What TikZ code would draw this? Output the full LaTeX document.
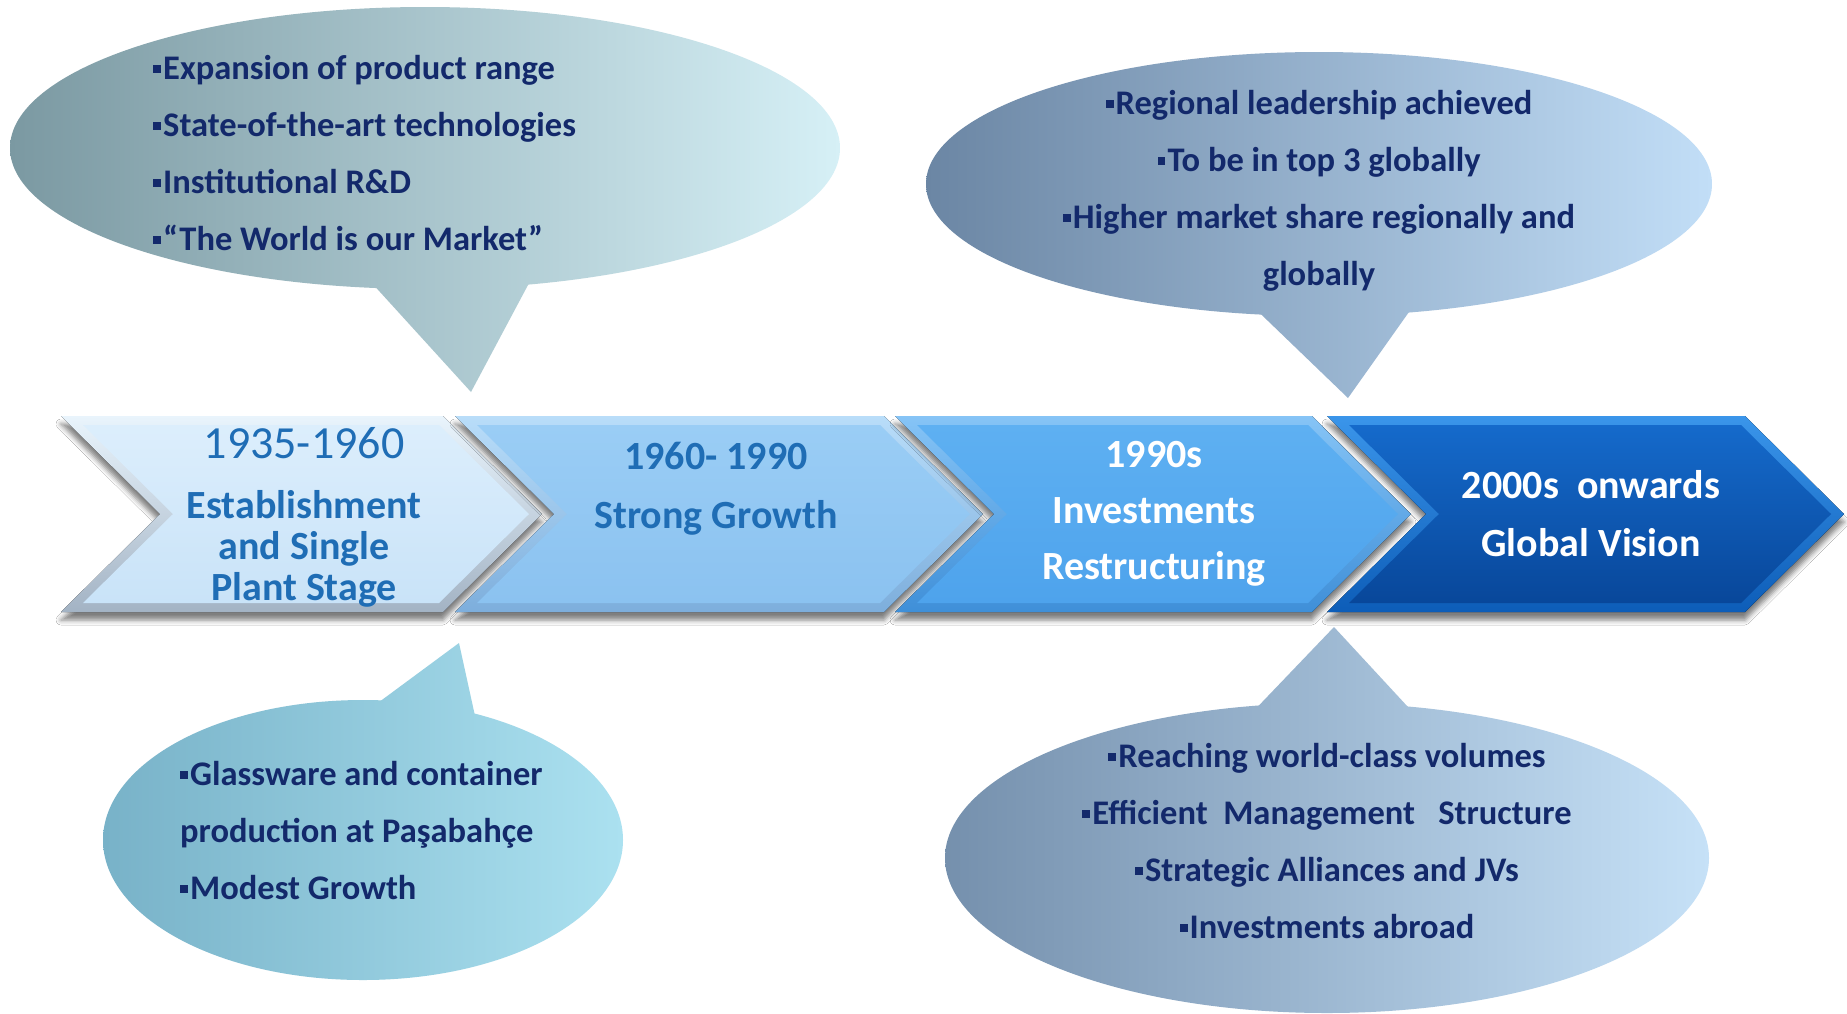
\documentclass[tikz,border=0pt]{standalone}
\usepackage{fontspec}
\setmainfont{Carlito}
\usetikzlibrary{shadows.blur}
\definecolor{navy}{HTML}{13296B}
\definecolor{chevtxt}{HTML}{1F6DB5}
\definecolor{tlL}{HTML}{7B99A2}
\definecolor{tlR}{HTML}{D6F0F6}
\definecolor{trL}{HTML}{6B86A4}
\definecolor{trR}{HTML}{C2DEF7}
\definecolor{blL}{HTML}{78B2C8}
\definecolor{blR}{HTML}{ABE1F0}
\definecolor{brL}{HTML}{7590AD}
\definecolor{brR}{HTML}{C6E1F7}
\definecolor{caT}{HTML}{E9F4FC}\definecolor{caB}{HTML}{A3B3C4}
\definecolor{ciT}{HTML}{DCEEFC}\definecolor{ciB}{HTML}{C9E3F8}
\definecolor{cbT}{HTML}{B9DDF9}\definecolor{cbB}{HTML}{7DAEDC}
\definecolor{cjT}{HTML}{9ACDF5}\definecolor{cjB}{HTML}{8BC2F0}
\definecolor{ccT}{HTML}{86C4F6}\definecolor{ccB}{HTML}{3F8FD8}
\definecolor{ckT}{HTML}{5EB0F2}\definecolor{ckB}{HTML}{4EA3EC}
\definecolor{cdT}{HTML}{3A95EA}\definecolor{cdB}{HTML}{0D5DB8}
\definecolor{clT}{HTML}{156ACB}\definecolor{clB}{HTML}{08479A}
\newcommand{\sqb}{\rule[0.2em]{0.23em}{0.23em}\hspace{0.06em}}
\tikzset{
  btxt/.style={font=\bfseries\fontsize{34.5}{57}\selectfont, text=navy, inner sep=0pt},
  ctxt/.style={font=\bfseries\fontsize{40}{48}\selectfont, inner sep=0pt, align=center},
  chevshadow/.style={blur shadow={shadow xshift=0pt, shadow yshift=-8pt, shadow opacity=50, shadow blur radius=5pt}},
}
% outer chevron: #1 = L, #2 = R
\newcommand{\chevouter}[2]{(#1,416) -- (#2,416) -- ({#2+99},514) -- (#2,612) -- (#1,612) -- ({#1+99},514) -- cycle}
\newcommand{\chevinner}[2]{({#1+22},425) -- ({#2-4},425) -- ({#2+86},514) -- ({#2-4},603) -- ({#1+22},603) -- ({#1+112},514) -- cycle}
\begin{document}
\begin{tikzpicture}[x=1pt,y=-1pt]
\useasboundingbox[fill=white] (0,0) rectangle (1847,1013);

% ---------- bubbles ----------
% top-left
\begin{scope}
  \clip (425,148) ellipse [x radius=415pt, y radius=141pt];
  \shade[left color=tlL, right color=tlR] (10,0) rectangle (840,400);
\end{scope}
\begin{scope}
  \clip (360,270) -- (471,392) -- (536,270) -- cycle;
  \shade[left color=tlL, right color=tlR] (10,0) rectangle (840,400);
\end{scope}
% top-right
\begin{scope}
  \clip (1319,184) ellipse [x radius=393pt, y radius=132pt];
  \shade[left color=trL, right color=trR] (926,40) rectangle (1712,400);
\end{scope}
\begin{scope}
  \clip (1241,295) -- (1348,398) -- (1421,295) -- cycle;
  \shade[left color=trL, right color=trR] (926,40) rectangle (1712,400);
\end{scope}
% bottom-left
\begin{scope}
  \clip (363,840) ellipse [x radius=260pt, y radius=140pt];
  \shade[left color=blL, right color=blR] (103,640) rectangle (623,980);
\end{scope}
\begin{scope}
  \clip (348,725) -- (459,643) -- (477,725) -- cycle;
  \shade[left color=blL, right color=blR] (103,640) rectangle (623,980);
\end{scope}
% bottom-right
\begin{scope}
  \clip (1327,858) ellipse [x radius=382pt, y radius=155pt];
  \shade[left color=brL, right color=brR] (945,620) rectangle (1709,1013);
\end{scope}
\begin{scope}
  \clip (1245,720) -- (1334,627) -- (1420,720) -- cycle;
  \shade[left color=brL, right color=brR] (945,620) rectangle (1709,1013);
\end{scope}

% ---------- chevrons ----------
% C1
\fill[chevshadow, top color=caT, bottom color=caB] \chevouter{61}{443};
\shade[top color=ciT, bottom color=ciB] \chevinner{61}{443};
% C2
\fill[chevshadow, top color=cbT, bottom color=cbB] \chevouter{455}{884};
\shade[top color=cjT, bottom color=cjB] \chevinner{455}{884};
% C3
\fill[chevshadow, top color=ccT, bottom color=ccB] \chevouter{895}{1312};
\shade[top color=ckT, bottom color=ckB] \chevinner{895}{1312};
% C4
\fill[chevshadow, top color=cdT, bottom color=cdB] \chevouter{1327}{1745};
\shade[top color=clT, bottom color=clB] \chevinner{1327}{1745};

% ---------- chevron texts ----------
\node[ctxt, text=chevtxt, font=\fontsize{46}{50}\selectfont] (c1y) at (304,443) {1935-1960};
\node[ctxt, text=chevtxt, font=\bfseries\fontsize{40}{41}\selectfont] (c1t) at (304,549) {Establishment\\and Single\\Plant Stage};
\node[ctxt, text=chevtxt] (c2y) at (716,456) {1960- 1990};
\node[ctxt, text=chevtxt] (c2t) at (716,518) {Strong Growth};
\node[ctxt, text=white, font=\bfseries\fontsize{40}{56}\selectfont] (c3t) at (1154,514) {1990s\\Investments\\Restructuring};
\node[ctxt, text=white, font=\bfseries\fontsize{40}{58}\selectfont] (c4t) at (1591,514) {2000s\ \ onwards\\Global Vision};

% ---------- bubble texts ----------
\node[btxt, anchor=west, align=left] (tlt) at (153,153)
  {\sqb Expansion of product range\\\sqb State-of-the-art technologies\\\sqb Institutional R\&D\\\sqb “The World is our Market”};
\node[btxt, align=center] (trt) at (1319,191)
  {\sqb Regional leadership achieved\\\sqb To be in top 3 globally\\\sqb Higher market share regionally and\\globally};
\node[btxt, anchor=west, align=left] (blt) at (180,831)
  {\sqb Glassware and container\\production at Paşabahçe\\\sqb Modest Growth};
\node[btxt, align=center] (brt) at (1327,841)
  {\sqb Reaching world-class volumes\\\sqb Efficient\ \ Management\ \ \ Structure\\\sqb Strategic Alliances and JVs\\\sqb Investments abroad};
\end{tikzpicture}
\end{document}
